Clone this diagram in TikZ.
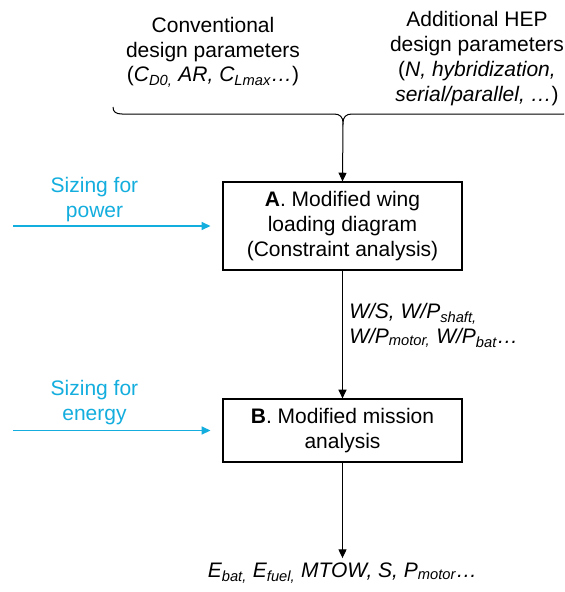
\documentclass[tikz,border=0pt]{standalone}
\usepackage{fontspec}
\setmainfont{Liberation Sans}
\usetikzlibrary{arrows.meta}
\definecolor{sizeblue}{RGB}{20,174,222}
\newcommand\sbsc[1]{\textsubscript{#1}}
\begin{document}
\begin{tikzpicture}[x=0.75pt,y=-0.75pt,
  txt/.style={font=\fontsize{15.75pt}{18.6pt}\selectfont, inner sep=0pt, align=center},
  box/.style={txt, draw, line width=0.9pt, minimum width=179.25pt, minimum height=66pt},
  conn/.style={line width=0.75pt, -{Triangle[width=6pt,length=6.5pt]}},
  bconn/.style={draw=sizeblue, line width=1.1pt, -{Triangle[width=6pt,length=6.5pt]}},
  btxt/.style={txt, text=sizeblue}]
\useasboundingbox (0,0) rectangle (564,592);
\clip (0,0) rectangle (564,592);
\fill[white] (0,0) rectangle (564,592);

% top parameter blocks (base anchor = baseline of the last line)
\node[txt, anchor=base] (conv) at (213,82) {Conventional\\design parameters\\(\textit{C\sbsc{D0,} AR, C\sbsc{Lmax}…})};
\node[txt, anchor=base] (hep) at (477,101) {Additional HEP\\design parameters\\(\textit{N, hybridization,}\\\textit{serial/parallel, …})};

% brace
\coordinate (bt) at (343,123);
\draw[line width=0.75pt] (113,107) .. controls (113,112) and (116,114) .. (122,114) -- (334,114)
  .. controls (340,114) and (343,117) .. (bt)
  .. controls (343,117) and (346,114) .. (352,114) -- (564,114)
  .. controls (570,114) and (573,112) .. (573,107);

% boxes
\node[box] (A) at (342.5,226) {\textbf{A}. Modified wing\\loading diagram\\(Constraint analysis)};
\node[box, minimum height=47.25pt] (B) at (342.5,430.5) {\textbf{B}. Modified mission\\analysis};

\draw[conn] (bt) -- (A.north);
\draw[conn] (A.south) -- (B.north);

\node[txt, anchor=base west, align=left] (ws) at (349,343) {\textit{W/S, W/P\sbsc{shaft,}}\\\textit{W/P\sbsc{motor,} W/P\sbsc{bat}…}};

\node[txt, anchor=base] (out) at (342.5,577) {\textit{E\sbsc{bat,} E\sbsc{fuel,} MTOW, S, P\sbsc{motor}…}};
\draw[conn, shorten >=3pt] (B.south) -- (out.north);

% sizing inputs
\node[btxt, anchor=base] (sp) at (94.5,217) {Sizing for\\power};
\coordinate (sp0) at (13,226);
\draw[bconn, shorten >=9pt] (sp0) -- (A.west);

\node[btxt, anchor=base] (se) at (94.5,420) {Sizing for\\energy};
\coordinate (se0) at (13,430.5);
\draw[bconn, shorten >=9pt] (se0) -- (B.west);
\end{tikzpicture}
\end{document}
